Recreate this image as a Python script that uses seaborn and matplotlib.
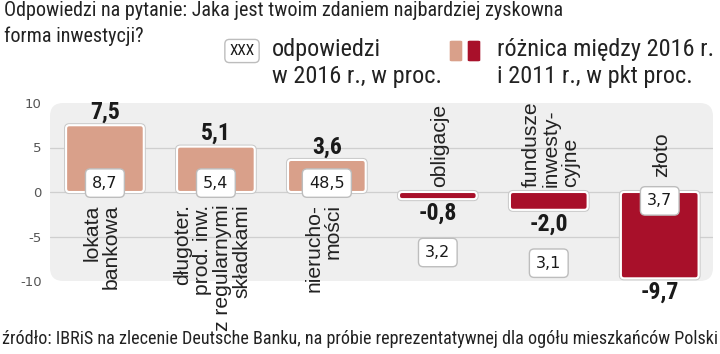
import os
import numpy as np
import matplotlib
matplotlib.use("Agg")
import matplotlib.pyplot as plt
from matplotlib import font_manager as fm
from matplotlib.font_manager import FontProperties
from matplotlib.patches import FancyBboxPatch
import seaborn as sns

categories = ["lokata\nbankowa",
              "długoter.\nprod. inw.\nz regularnymi\nskładkami",
              "nierucho-\nmości",
              "obligacje",
              "fundusze\ninwesty-\ncyjne",
              "złoto"]
change = [7.5, 5.1, 3.6, -0.8, -2.0, -9.7]        # różnica 2016 vs 2011, pkt proc.
share_2016 = [8.7, 5.4, 48.5, 3.2, 3.1, 3.7]      # odpowiedzi w 2016 r., w proc.
yticks = [-10, -5, 0, 5, 10]

SALMON = "#d9a08a"
RED = "#a8102a"
TXT = "#222222"

sns.set_style("white")
plt.rcParams["font.family"] = ["Liberation Sans", "DejaVu Sans"]


def find_narrow(bold):
    # look for any installed condensed / narrow face
    best = None
    for f in fm.fontManager.ttflist:
        b = os.path.basename(f.fname).lower()
        if not any(k in b for k in ("narrow", "condensed", "cond")):
            continue
        if "italic" in b or "oblique" in b or "semi" in b or "extra" in b or "ultra" in b:
            continue
        is_bold = "bold" in b and "semibold" not in b
        if is_bold != bold:
            continue
        if not bold and any(k in b for k in ("light", "thin", "medium", "black", "semibold")):
            continue
        best = f.fname
        if "liberation" in b or "roboto" in b:
            break
    return best


nreg = find_narrow(False)
nbold = find_narrow(True)
FP = FontProperties(fname=nreg) if nreg else FontProperties(family=["Liberation Sans", "DejaVu Sans"])
FPB = (FontProperties(fname=nbold) if nbold
       else FontProperties(family=["Liberation Sans", "DejaVu Sans"], weight="bold"))

W, H = 720, 354
fig = plt.figure(figsize=(W / 100, H / 100), dpi=100)
ax = fig.add_axes([50 / W, 1 - 281 / H, 663 / W, 178 / H])
ax.set_facecolor("none")

keys = [str(i) for i in range(len(change))]
colors = [SALMON if v > 0 else RED for v in change]
sns.barplot(x=keys, y=change, hue=keys, palette=colors, legend=False, saturation=1,
            width=0.7, ax=ax, edgecolor="white", linewidth=1.5, zorder=3)

# rounded bar corners with a faint grey rim
asp = (1 / 8.9) / (1 / 111)
for p in list(ax.patches):
    x0, y0, w, h = p.get_x(), p.get_y(), p.get_width(), p.get_height()
    if h < 0:
        y0, h = y0 + h, -h
    fb = FancyBboxPatch((x0, y0), w, h, boxstyle="round,pad=0,rounding_size=0.03",
                        mutation_aspect=asp, facecolor=p.get_facecolor(),
                        edgecolor="white", linewidth=1.5, zorder=3)
    sh = FancyBboxPatch((x0, y0), w, h, boxstyle="round,pad=0.012,rounding_size=0.04",
                        mutation_aspect=asp, facecolor="none",
                        edgecolor="#c8c8c8", linewidth=1.0, zorder=2.9)
    p.remove()
    ax.add_patch(sh)
    ax.add_patch(fb)

ax.set_xlim(-0.495, 5.48)
ax.set_ylim(-10, 10)

panel = FancyBboxPatch((0, 0), 1, 1, boxstyle="round,pad=0,rounding_size=0.02",
                       mutation_aspect=663 / 178, transform=ax.transAxes,
                       facecolor="#efefef", edgecolor="none", zorder=0, clip_on=False)
ax.add_patch(panel)
for g in [-5, 0, 5]:
    ax.axhline(g, color="#cfcfcf", lw=0.9, zorder=1)

sns.despine(ax=ax, left=True, bottom=True)
ax.set_xticks([])
ax.set_xlabel("")
ax.set_yticks(yticks)
ax.set_yticklabels([str(t) for t in yticks], family="DejaVu Sans", fontsize=9.5, color="#555555")
ax.tick_params(axis="y", length=0, pad=6)

box = dict(boxstyle="round,pad=0.42,rounding_size=0.3", fc="white", ec="#bdbdbd", lw=1.0)
val_txt, cat_txt = [], []
for i, (v, s, lab) in enumerate(zip(change, share_2016, categories)):
    vtxt = f"{v:.1f}".replace(".", ",")
    if v > 0:
        t = ax.annotate(vtxt, (i, v), xytext=(0, 1), textcoords="offset points",
                        ha="center", va="bottom", fontproperties=FPB, fontsize=16,
                        color="#1a1a1a", zorder=5)
        by = 1.0
        c = ax.text(i - 0.03, -1.4, lab, rotation=90, ha="center", va="top",
                    multialignment="right", fontsize=13, color=TXT,
                    linespacing=1.05, zorder=5)
    else:
        t = ax.annotate(vtxt, (i, v), xytext=(0, -2), textcoords="offset points",
                        ha="center", va="top", fontproperties=FPB, fontsize=16,
                        color="#1a1a1a", zorder=5, annotation_clip=False)
        # big drop: box sits inside the bar, label lifted above it
        big = v < -5
        by = -1.0 if big else v - 6.0
        c = ax.text(i + 0.02, 1.7 if big else 0.55, lab, rotation=90, ha="center",
                    va="bottom", multialignment="left", fontsize=13, color=TXT,
                    linespacing=1.05, zorder=5)
    val_txt.append(t)
    cat_txt.append(c)
    ax.text(i, by, f"{s}".replace(".", ","), ha="center", va="center",
            family="DejaVu Sans", fontsize=11.5, color="#1a1a1a", bbox=box, zorder=6)


def fx(x):
    return x / W


def fy(y):
    return 1 - y / H


t1 = fig.text(fx(4), fy(1), "Odpowiedzi na pytanie: Jaka jest twoim zdaniem najbardziej zyskowna",
              ha="left", va="top", fontproperties=FP, fontsize=15, color=TXT)
t2 = fig.text(fx(4), fy(27), "forma inwestycji?", ha="left", va="top",
              fontproperties=FP, fontsize=15, color=TXT)

fig.text(fx(242), fy(51), "XXX", ha="center", va="center", fontproperties=FP, fontsize=11,
         color="#1a1a1a", bbox=dict(boxstyle="round,pad=0.3,rounding_size=0.3",
                                    fc="white", ec="#bdbdbd", lw=1.0))
l1 = fig.text(fx(272), fy(38), "odpowiedzi\nw 2016 r., w proc.", ha="left", va="top",
              fontproperties=FP, fontsize=15, color=TXT, linespacing=1.2)
for x0, col in [(449, SALMON), (467, RED)]:
    fig.patches.append(FancyBboxPatch((fx(x0), fy(62)), fx(14), 22 / H,
                                      boxstyle="round,pad=0,rounding_size=0.004",
                                      transform=fig.transFigure, fc=col, ec="white",
                                      lw=1.0, figure=fig))
l2 = fig.text(fx(497), fy(38), "różnica między 2016 r.\ni 2011 r., w pkt proc.", ha="left",
              va="top", fontproperties=FP, fontsize=15, color=TXT, linespacing=1.2)

src = fig.text(fx(2), fy(339), "źródło: IBRiS na zlecenie Deutsche Banku, na próbie "
               "reprezentatywnej dla ogółu mieszkańców Polski", ha="left", va="center",
               fontproperties=FP, fontsize=11, color=TXT)

# shrink/grow text groups so their widths match the reference picture
fig.canvas.draw()
r = fig.canvas.get_renderer()


def fit(ref, target, group, horiz=True):
    bb = ref.get_window_extent(r)
    k = target / (bb.width if horiz else bb.height)
    for a in group:
        a.set_fontsize(a.get_fontsize() * k)


fit(t1, 560, [t1, t2])
fit(l2, 218, [l1, l2])
fit(src, 715, [src])
fit(val_txt[0], 30, val_txt)
fit(cat_txt[1], 127, cat_txt, horiz=False)

fig.savefig("out.png", dpi=100)
